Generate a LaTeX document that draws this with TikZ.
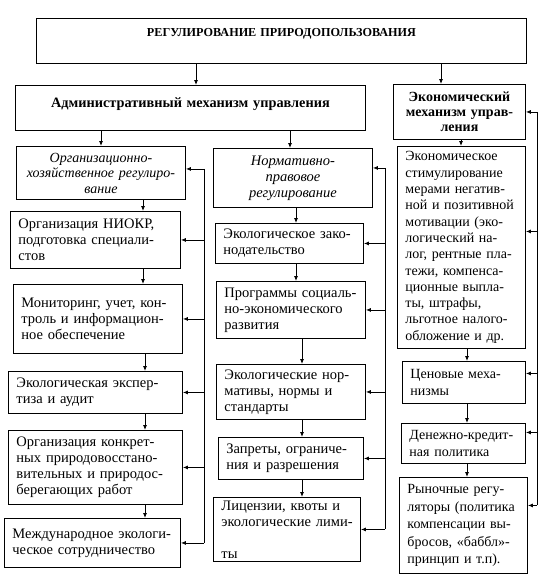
\documentclass[tikz,border=0pt]{standalone}
\usepackage{fontspec}
\setmainfont{Liberation Serif}
\usetikzlibrary{arrows.meta}
\begin{document}
\begin{tikzpicture}[x=1pt,y=-1pt,
 box/.style={draw, line width=0.9pt, anchor=north west, inner xsep=8pt, inner ysep=2pt, align=left, font=\fontsize{14.5}{16}\selectfont},
 rbox/.style={box, font=\fontsize{14}{16.3}\selectfont},
 ibox/.style={box, align=center, font=\fontsize{14}{15.5}\selectfont\itshape},
 arr/.style={-{Latex[length=5pt,width=4pt]}, line width=0.8pt},
 bus/.style={line width=0.8pt}]
\useasboundingbox[fill=white] (0,0) rectangle (552,582);
% top level
\node[box, align=center, minimum width=490pt, minimum height=45pt, text width=474pt, text depth=16pt, font=\fontsize{12.2}{14}\selectfont\bfseries] (title) at (36,18) {РЕГУЛИРОВАНИЕ ПРИРОДОПОЛЬЗОВАНИЯ};
\node[box, align=center, minimum width=350pt, minimum height=45pt, text width=334pt, text depth=10pt, font=\fontsize{14.3}{16}\selectfont\bfseries] (admin) at (15,85) {Административный механизм управления};
\node[box, align=center, minimum width=132pt, minimum height=55pt, text width=120pt, inner xsep=6pt, font=\fontsize{14}{15}\selectfont\bfseries] (econ) at (393,84) {Экономический\\механизм~управ-\\ления};
% left column
\node[ibox, minimum width=169pt, minimum height=53pt, text width=157pt, inner xsep=6pt] (org) at (16,146) {Организационно-\\хозяйственное~регулиро-\\вание};
\node[box, minimum width=170pt, minimum height=57pt, text width=154pt] (niokr) at (10,211) {Организация~НИОКР,\\подготовка~специали-\\стов};
\node[box, minimum width=169pt, minimum height=69pt, text width=153pt] (monitor) at (13,284) {Мониторинг,~учет,~кон-\\троль~и~информацион-\\ное~обеспечение};
\node[box, minimum width=174pt, minimum height=42pt, text width=158pt] (expert) at (8,371) {Экологическая~экспер-\\тиза~и~аудит};
\node[box, minimum width=174pt, minimum height=74pt, text width=158pt] (concrete) at (8,430) {Организация~конкрет-\\ных~природовосстано-\\вительных~и~природос-\\берегающих~работ};
\node[box, minimum width=176pt, minimum height=49pt, text width=160pt] (intl) at (4,518) {Международное~экологи-\\ческое~сотрудничество};
% middle column
\node[ibox, minimum width=159pt, minimum height=59pt, text width=147pt, inner xsep=6pt, font=\fontsize{14.5}{16}\selectfont\itshape] (norm) at (213,148) {Нормативно-\\правовое\\регулирование};
\node[box, minimum width=148pt, minimum height=40pt, text width=132pt] (law) at (215,223) {Экологическое~зако-\\нодательство};
\node[box, minimum width=149pt, minimum height=57pt, text width=133pt] (prog) at (216,281) {Программы~социаль-\\но-экономического\\развития};
\node[box, minimum width=149pt, minimum height=55pt, text width=133pt] (norms) at (216,364) {Экологические~нор-\\мативы,~нормы~и\\стандарты};
\node[box, minimum width=145pt, minimum height=42pt, text width=129pt] (proh) at (218,437) {Запреты,~ограниче-\\ния~и~разрешения};
\node[box, minimum width=147pt, minimum height=64pt, text width=131pt] (lic) at (213,497) {Лицензии,~квоты~и\\экологические~лими-\\ты};
% right column
\node[rbox, minimum width=128pt, minimum height=202pt, text width=112pt] (stim) at (397,146) {Экономическое\\стимулирование\\мерами~негатив-\\ной~и~позитивной\\мотивации~(эко-\\логический~на-\\лог,~рентные~пла-\\тежи,~компенса-\\ционные~выпла-\\ты,~штрафы,\\льготное~налого-\\обложение~и~др.};
\node[rbox, minimum width=123pt, minimum height=42pt, text width=107pt] (price) at (402,361) {Ценовые~меха-\\низмы};
\node[rbox, minimum width=124pt, minimum height=40pt, text width=108pt] (money) at (401,423) {Денежно-кредит-\\ная~политика};
\node[rbox, minimum width=128pt, minimum height=96pt, text width=112pt, font=\fontsize{14}{17.5}\selectfont] (market) at (399,477) {Рыночные~регу-\\ляторы~(политика\\компенсации~вы-\\бросов,~«баббл»-\\принцип~и~т.п).};
% helper coordinates
\coordinate (v1) at (196,0);
\coordinate (v2) at (441,0);
\coordinate (v3) at (101,0);
\coordinate (v4) at (290,0);
\coordinate (v5) at (461,0);
\coordinate (vl1) at (143,0);
\coordinate (vl2) at (145,0);
\coordinate (vm1) at (296,0);
\coordinate (vm2) at (302,0);
\coordinate (vr1) at (467,0);
\coordinate (bL) at (204,0);
\coordinate (bM) at (385,0);
\coordinate (bR) at (537,0);
\coordinate (oE) at ([yshift=4pt]org.east);
\coordinate (nE) at ([yshift=10pt]norm.east);
\coordinate (sE) at ([yshift=16pt]stim.east);
\coordinate (pE) at ([yshift=9pt]price.east);
\coordinate (mE) at ([yshift=11pt]money.east);
\coordinate (kE) at ([yshift=20pt]market.east);
% vertical arrows
\draw[arr] (title.south -| v1) -- (admin.north -| v1);
\draw[arr] (title.south -| v2) -- (econ.north -| v2);
\draw[arr] (admin.south -| v3) -- (org.north -| v3);
\draw[arr] (admin.south -| v4) -- (norm.north -| v4);
\draw[arr] (econ.south -| v5) -- (stim.north -| v5);
\draw[arr] (org.south -| vl1) -- (niokr.north -| vl1);
\draw[arr] (niokr.south -| vl1) -- (monitor.north -| vl1);
\draw[arr] (monitor.south -| vl2) -- (expert.north -| vl2);
\draw[arr] (expert.south -| vl2) -- (concrete.north -| vl2);
\draw[arr] (concrete.south -| vl2) -- (intl.north -| vl2);
\draw[arr] (norm.south -| vm1) -- (law.north -| vm1);
\draw[arr] (law.south -| vm1) -- (prog.north -| vm1);
\draw[arr] (prog.south -| vm2) -- (norms.north -| vm2);
\draw[arr] (norms.south -| vm2) -- (proh.north -| vm2);
\draw[arr] (proh.south -| vm2) -- (lic.north -| vm2);
\draw[arr] (stim.south -| vr1) -- (price.north -| vr1);
\draw[arr] (price.south -| vr1) -- (money.north -| vr1);
\draw[arr] (money.south -| vr1) -- (market.north -| vr1);
% left bus
\draw[bus] (oE -| bL) -- (intl.east -| bL);
\draw[arr] (oE -| bL) -- (oE);
\draw[arr] (niokr.east -| bL) -- (niokr.east);
\draw[arr] (monitor.east -| bL) -- (monitor.east);
\draw[arr] (expert.east -| bL) -- (expert.east);
\draw[arr] (concrete.east -| bL) -- (concrete.east);
\draw[arr] (intl.east -| bL) -- (intl.east);
% middle bus
\draw[bus] (nE -| bM) -- (lic.east -| bM);
\draw[arr] (nE -| bM) -- (nE);
\draw[arr] (law.east -| bM) -- (law.east);
\draw[arr] (prog.east -| bM) -- (prog.east);
\draw[arr] (norms.east -| bM) -- (norms.east);
\draw[arr] (proh.east -| bM) -- (proh.east);
\draw[arr] (lic.east -| bM) -- (lic.east);
% right bus
\draw[bus] (econ.east -| bR) -- (kE -| bR);
\draw[arr] (econ.east -| bR) -- (econ.east);
\draw[arr] (sE -| bR) -- (sE);
\draw[arr] (pE -| bR) -- (pE);
\draw[arr] (mE -| bR) -- (mE);
\draw[arr] (kE -| bR) -- (kE);
\end{tikzpicture}
\end{document}
